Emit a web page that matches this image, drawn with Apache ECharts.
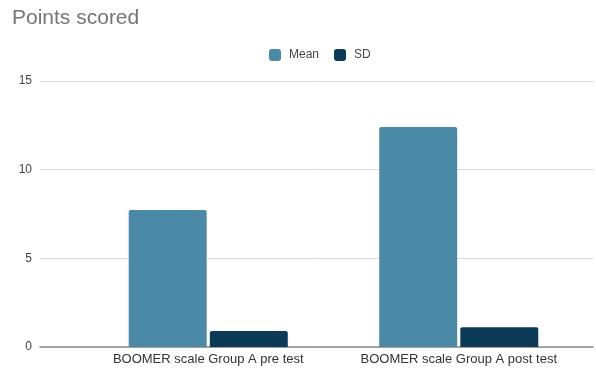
<!DOCTYPE html>
<html>
<head>
<meta charset="utf-8">
<script src="https://cdn.jsdelivr.net/npm/echarts@6/dist/echarts.min.js"></script>
<style>
  html, body { margin: 0; padding: 0; background: #fff; }
  #chart { width: 596px; height: 374px; }
</style>
</head>
<body>
<div id="chart"></div>
<script>
// Points scored on the BOOMER scale, Group A
const categories = ['BOOMER scale Group A pre test', 'BOOMER scale Group A post test'];
const meanValues = [7.72, 12.4];
const sdValues = [0.9, 1.12];
const yTicks = [0, 5, 10, 15];

const meanColor = '#4b8aa7';
const sdColor = '#0b3b56';
const font = '"Liberation Sans", Arial, sans-serif';

const chart = echarts.init(document.getElementById('chart'));
chart.setOption({
  animation: false,
  title: {
    text: 'Points scored',
    left: 7,
    top: 3,
    textStyle: { fontFamily: font, fontSize: 21, fontWeight: 'normal', color: '#757575' }
  },
  legend: {
    data: ['Mean', 'SD'],
    left: 264,
    top: 44,
    itemWidth: 12,
    itemHeight: 12,
    itemGap: 15,
    icon: 'roundRect',
    textStyle: { fontFamily: font, fontSize: 12, color: '#444', padding: [0, 0, 0, 3] }
  },
  grid: [
    // bar area
    { left: 83, right: 12, top: 81, bottom: 27 },
    // full-width frame for gridlines and value labels
    { left: 40, right: 3, top: 81, bottom: 27 }
  ],
  xAxis: [
    {
      type: 'category',
      gridIndex: 0,
      data: categories,
      axisLine: { show: false },
      axisTick: { show: false },
      axisLabel: { interval: 0, fontFamily: font, fontSize: 13, color: '#333', margin: 6 }
    },
    {
      type: 'value',
      gridIndex: 1,
      min: 0,
      max: 1,
      show: true,
      axisLine: { show: true, lineStyle: { color: '#8a8a8a', width: 1.5 } },
      axisTick: { show: false },
      axisLabel: { show: false },
      splitLine: { show: false }
    }
  ],
  yAxis: [
    {
      type: 'value',
      gridIndex: 0,
      min: 0,
      max: 15,
      interval: 5,
      show: false
    },
    {
      type: 'value',
      gridIndex: 1,
      min: yTicks[0],
      max: yTicks[yTicks.length - 1],
      interval: 5,
      axisLine: { show: false },
      axisTick: { show: false },
      axisLabel: { fontFamily: font, fontSize: 12, color: '#444', margin: 8 },
      splitLine: { lineStyle: { color: '#d9d9d9', width: 1 } }
    }
  ],
  series: [
    {
      name: 'Mean',
      type: 'bar',
      xAxisIndex: 0,
      yAxisIndex: 0,
      data: meanValues,
      barGap: '4%',
      barCategoryGap: '36.5%',
      itemStyle: { color: meanColor, borderRadius: [2, 2, 0, 0] },
      z: 3
    },
    {
      name: 'SD',
      type: 'bar',
      xAxisIndex: 0,
      yAxisIndex: 0,
      data: sdValues,
      barGap: '4%',
      barCategoryGap: '36.5%',
      itemStyle: { color: sdColor, borderRadius: [2, 2, 0, 0] },
      z: 3
    }
  ]
});
</script>
</body>
</html>
